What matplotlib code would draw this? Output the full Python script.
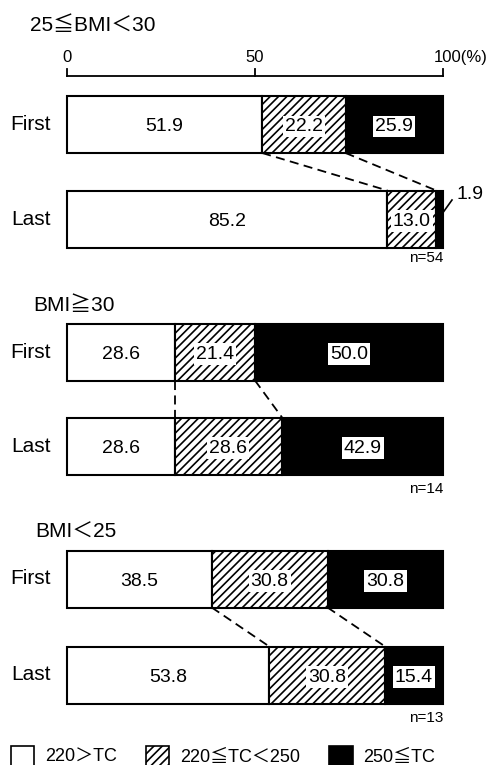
import numpy as np
import matplotlib.pyplot as plt
from matplotlib.patches import Patch

plt.rcParams['font.family'] = ['Liberation Sans', 'Noto Sans CJK JP', 'DejaVu Sans']
plt.rcParams['hatch.linewidth'] = 1.2

# data
groups = ["25≦BMI＜30", "BMI≧30", "BMI＜25"]
rows = ["First", "Last"]
first_pct = [[51.9, 22.2, 25.9], [28.6, 21.4, 50.0], [38.5, 30.8, 30.8]]
last_pct = [[85.2, 13.0, 1.9], [28.6, 28.6, 42.9], [53.8, 30.8, 15.4]]
n_values = [54, 14, 13]
legend_labels = ["220＞TC", "220≦TC＜250", "250≦TC"]
ticks = [0, 50, 100]

# layout (pixel-like units, y grows downward)
W, H = 497, 765
X0, PX = 67, 3.76          # pixel of 0 %, pixels per %
bar_h = 57
bar_y = [(124.5, 219), (352, 446), (579, 675)]
title_y = [25, 305, 532]
title_x = [30, 33, 35]
n_y = [258, 489, 718]

styles = [dict(facecolor="white", hatch=None),
          dict(facecolor="white", hatch="////"),
          dict(facecolor="black", hatch=None)]

fig = plt.figure(figsize=(W / 100, H / 100), dpi=100)
ax = fig.add_axes([0, 0, 1, 1])
ax.set_xlim(-X0 / PX, (W - X0) / PX)
ax.set_ylim(H, 0)
ax.axis("off")


def px(x):
    return (x - X0) / PX


# top scale
ax.plot([0, 100], [76, 76], color="black", lw=1.3)
for t in ticks:
    ax.plot([t, t], [76, 69], color="black", lw=1.3)
ax.text(0, 57, "0", ha="center", va="center", fontsize=12)
ax.text(50, 57, "50", ha="center", va="center", fontsize=12)
ax.text(px(434), 57, "100(%)", ha="left", va="center", fontsize=12)

for g, name in enumerate(groups):
    ax.text(px(title_x[g]), title_y[g], name, ha="left", va="center", fontsize=15)
    for r, vals in enumerate([first_pct[g], last_pct[g]]):
        y = bar_y[g][r]
        left = 0
        for k, v in enumerate(vals):
            ax.barh(y, v, left=left, height=bar_h, edgecolor="black",
                    linewidth=1.5, zorder=2, **styles[k])
            cx = left + v / 2
            if v < 5:
                # too small, label outside with leader line
                ax.plot([left + v / 2, px(452)], [y - 2, y - 19],
                        color="black", lw=1.2, zorder=3)
                ax.text(px(457), y - 25, f"{v:.1f}", ha="left", va="center",
                        fontsize=14)
            elif k == 0:
                ax.text(cx, y + 2, f"{v:.1f}", ha="center", va="center",
                        fontsize=14, zorder=4)
            else:
                ax.text(cx, y + 2, f"{v:.1f}", ha="center", va="center",
                        fontsize=14, zorder=4,
                        bbox=dict(facecolor="white", edgecolor="none",
                                  pad=1.5))
            left += v
        ax.text(px(51), y, rows[r], ha="right", va="center", fontsize=15)

    # dashed connectors between segment boundaries
    c1 = np.cumsum(first_pct[g])[:2]
    c2 = np.cumsum(last_pct[g])[:2]
    y1 = bar_y[g][0] + bar_h / 2
    y2 = bar_y[g][1] - bar_h / 2
    for a, b in zip(c1, c2):
        ax.plot([a, b], [y1, y2], color="black", lw=1.3,
                ls=(0, (5, 3)), zorder=1)

    ax.text(100, n_y[g], f"n={n_values[g]}", ha="right", va="center",
            fontsize=11)

handles = [Patch(facecolor=s["facecolor"], edgecolor="black",
                 hatch=s["hatch"], linewidth=1.2) for s in styles]
ax.legend(handles, legend_labels, loc="center left",
          bbox_to_anchor=(0.0, 1 - 756 / H), ncol=3, frameon=False,
          fontsize=13, handlelength=1.3, handleheight=1.3,
          handletextpad=0.6, columnspacing=1.6, borderaxespad=0.2)

fig.savefig("out.png", dpi=100, facecolor="white")
